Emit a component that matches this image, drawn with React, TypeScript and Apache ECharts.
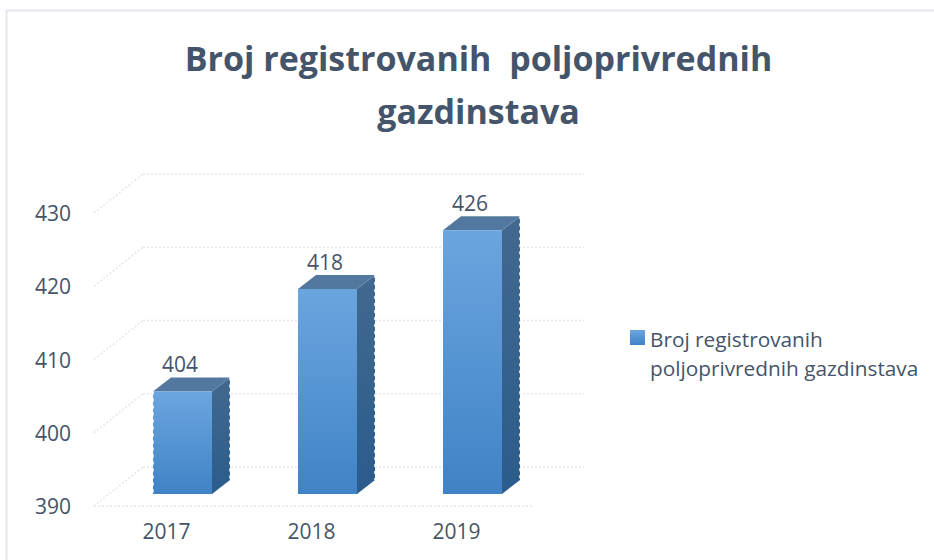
import React, { useEffect, useRef } from "react";
import * as echarts from "echarts";

const categories = ["2017", "2018", "2019"];
const values = [404, 418, 426];
const ticks = [390, 400, 410, 420, 430];
const seriesName = "Broj registrovanih poljoprivrednih gazdinstava";
const titleText = "Broj registrovanih  poljoprivrednih\ngazdinstava";
const ink = "#44546a";
const gridInk = "#e1e6f0";

const BAR_DX = 16, BAR_DY = -12, DEPTH_X = 18, DEPTH_Y = -14, BAR_W = 59;
const WALL_DX = 49, WALL_DY = -39;

const vGrad = (a: string, b: string) =>
  new echarts.graphic.LinearGradient(0, 0, 0, 1, [
    { offset: 0, color: a },
    { offset: 1, color: b },
  ]);

function renderBar(params: any, api: any) {
  const [cx, top] = api.coord([api.value(0), api.value(1)]);
  const [, bottom] = api.coord([api.value(0), 390]);
  const l = cx + BAR_DX - BAR_W / 2;
  const r = l + BAR_W;
  const t = top + BAR_DY;
  const b = bottom + BAR_DY;
  const children: any[] = [
    {
      type: "polygon",
      shape: { points: [[r, t], [r + DEPTH_X, t + DEPTH_Y], [r + DEPTH_X, b + DEPTH_Y], [r, b]] },
      style: { fill: vGrad("#42698f", "#2a5c8c") },
    },
    {
      type: "polygon",
      shape: { points: [[l, t], [l + DEPTH_X, t + DEPTH_Y], [r + DEPTH_X, t + DEPTH_Y], [r, t]] },
      style: { fill: "#52789f" },
    },
    {
      type: "rect",
      shape: { x: l, y: t, width: BAR_W, height: b - t },
      style: { fill: vGrad("#6ba5df", "#3f83c6") },
    },
    {
      type: "line",
      shape: { x1: r + DEPTH_X, y1: t + DEPTH_Y, x2: r + DEPTH_X, y2: b + DEPTH_Y },
      style: { stroke: "#ffffff", lineWidth: 1.5, lineDash: [3, 4] },
    },
    {
      type: "text",
      style: {
        text: String(api.value(1)),
        x: cx + BAR_DX - 2.5,
        y: t - 27,
        align: "center",
        verticalAlign: "middle",
        fill: ink,
        font: '21px "Open Sans", sans-serif',
      },
    },
  ];
  if (params.dataIndex === 0) {
    children.push({
      type: "line",
      shape: { x1: l, y1: t, x2: l, y2: b },
      style: { stroke: "#ffffff", lineWidth: 1.5, lineDash: [3, 4] },
    });
  }
  return { type: "group", children };
}

function renderWall(params: any, api: any) {
  const sys = params.coordSys;
  const [, y] = api.coord([0, api.value(0)]);
  const lineStyle = { stroke: gridInk, lineWidth: 1.5, lineDash: [2, 2] };
  const x0 = sys.x;
  const children: any[] = [
    {
      type: "line",
      shape: { x1: x0, y1: y, x2: x0 + WALL_DX, y2: y + WALL_DY },
      style: lineStyle,
    },
    {
      type: "line",
      shape: { x1: x0 + WALL_DX, y1: y + WALL_DY, x2: x0 + sys.width + WALL_DX + 6, y2: y + WALL_DY },
      style: lineStyle,
    },
  ];
  if (api.value(0) === ticks[0]) {
    children.push({
      type: "line",
      shape: { x1: x0, y1: y, x2: x0 + sys.width + 3, y2: y },
      style: lineStyle,
    });
  }
  return { type: "group", children };
}

export default function App() {
  const ref = useRef<HTMLDivElement>(null);
  useEffect(() => {
    const chart = echarts.init(ref.current!, undefined, { renderer: "svg" });
    chart.setOption({
      animation: false,
      backgroundColor: "#ffffff",
      title: {
        text: titleText,
        left: 473.5,
        top: 26,
        textAlign: "center",
        textStyle: {
          fontFamily: '"Open Sans", sans-serif',
          fontSize: 34,
          fontWeight: "bold",
          color: ink,
          lineHeight: 53,
        },
      },
      graphic: [
        {
          type: "rect",
          shape: { x: 6.5, y: 10.5, width: 1000, height: 600 },
          style: { fill: "none", stroke: "#e3e6ee", lineWidth: 2 },
          z: 0,
        },
      ],
      grid: { left: 94, width: 435, top: 213, height: 293 },
      legend: {
        show: true,
        left: 625,
        top: 319.5,
        orient: "vertical",
        icon: "path://M0 0H15V15H0Z M0 47H0.01V46.99H0Z",
        itemWidth: 15,
        itemHeight: 47,
        itemGap: 6,
        data: [
          {
            name: seriesName,
            itemStyle: {
              color: new echarts.graphic.LinearGradient(0, 0, 0, 1, [
                { offset: 0, color: "#6ba5df" },
                { offset: 0.32, color: "#3f83c6" },
                { offset: 1, color: "#3f83c6" },
              ]),
            },
          },
        ],
        formatter: () => "Broj registrovanih\npoljoprivrednih gazdinstava",
        textStyle: {
          fontFamily: '"Open Sans", sans-serif',
          fontSize: 20.8,
          color: ink,
          lineHeight: 29,
        },
      },
      xAxis: {
        type: "category",
        data: categories,
        axisLine: { show: false },
        axisTick: { show: false },
        axisLabel: {
          color: ink,
          fontSize: 21,
          margin: 14,
          fontFamily: '"Open Sans", sans-serif',
        },
      },
      yAxis: {
        type: "value",
        min: 390,
        max: 430,
        interval: 10,
        axisLine: { show: false },
        axisTick: { show: false },
        splitLine: { show: false },
        axisLabel: {
          color: ink,
          fontSize: 21,
          margin: 23,
          padding: [0, 0, 2, 0],
          fontFamily: '"Open Sans", sans-serif',
        },
      },
      series: [
        {
          type: "custom",
          name: "wall",
          renderItem: renderWall,
          data: ticks.map((v) => [v]),
          encode: { y: 0 },
          clip: false,
          silent: true,
          z: 1,
        },
        {
          type: "custom",
          name: seriesName,
          renderItem: renderBar,
          data: categories.map((_, i) => [i, values[i]]),
          encode: { x: 0, y: 1 },
          clip: false,
          z: 2,
        },
      ],
    });
    return () => chart.dispose();
  }, []);
  return <div ref={ref} style={{ position: "fixed", left: 0, top: 0, width: 934, height: 560 }} />;
}
